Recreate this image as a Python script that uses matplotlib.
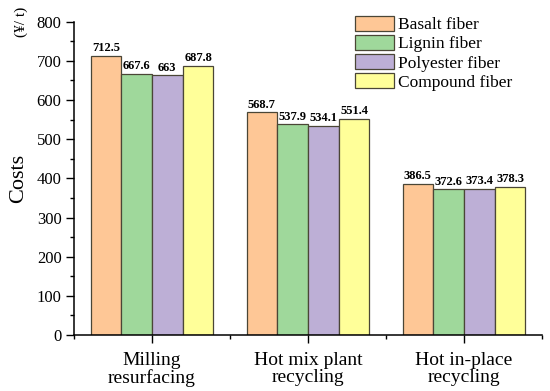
import matplotlib
matplotlib.use("Agg")
import matplotlib.pyplot as plt
import numpy as np
from matplotlib.ticker import MultipleLocator, FixedLocator

categories = ["Milling\nresurfacing", "Hot mix plant\nrecycling", "Hot in-place\nrecycling"]
series_names = ["Basalt fiber", "Lignin fiber", "Polyester fiber", "Compound fiber"]
basalt = [712.5, 568.7, 386.5]
lignin = [667.6, 537.9, 372.6]
polyester = [663, 534.1, 373.4]
compound = [687.8, 551.4, 378.3]
labels_text = [["712.5", "568.7", "386.5"],
               ["667.6", "537.9", "372.6"],
               ["663", "534.1", "373.4"],
               ["687.8", "551.4", "378.3"]]
colors = ["#FEC796", "#9FD89B", "#BDAFD6", "#FFFF99"]

plt.rcParams['font.family'] = ['Liberation Serif', 'DejaVu Serif']

fig = plt.figure(figsize=(5.5, 3.91), dpi=100)
ax = fig.add_axes([74/550, 1-335/391, (542-74)/550, (335-21.7)/391])

x = np.arange(1, len(categories) + 1)
w = 0.197
series = [basalt, lignin, polyester, compound]
for i, (vals, c, name) in enumerate(zip(series, colors, series_names)):
    pos = x + (i - 1.5) * w
    ax.bar(pos, vals, width=w, color=c, edgecolor="#4a4636", linewidth=0.9, label=name)
    for p, v, t in zip(pos, vals, labels_text[i]):
        ax.text(p, v + 4, t, ha="center", va="bottom", fontsize=9, fontweight="bold")

ax.set_xlim(0.5, 3.5)
ax.set_ylim(0, 800)
ax.set_xticks(x)
ax.set_xticklabels(categories, fontsize=14, linespacing=1.05)
ax.xaxis.set_minor_locator(FixedLocator([0.5, 1.5, 2.5, 3.5]))
ax.yaxis.set_major_locator(MultipleLocator(100))
ax.yaxis.set_minor_locator(MultipleLocator(50))
ax.tick_params(axis="y", which="major", labelsize=12, length=6, width=1, direction="out", pad=3)
ax.tick_params(axis="y", which="minor", length=3, width=1, direction="out")
ax.tick_params(axis="x", which="major", length=6, width=1, direction="out", pad=6)
ax.tick_params(axis="x", which="minor", length=3, width=1, direction="out")
for s in ["top", "right"]:
    ax.spines[s].set_visible(False)
for s in ["left", "bottom"]:
    ax.spines[s].set_linewidth(1.1)

ax.set_ylabel("Costs", fontsize=16, labelpad=6)
fig.text(21/550, 1-22/391, "(¥/ t)", rotation=90, ha="center", va="center", fontsize=11)

leg = ax.legend(loc="upper left", bbox_to_anchor=((355-74)/468, 1 + 6/313), frameon=False,
                fontsize=12.5, handlelength=2.25, handleheight=0.95, handletextpad=0.25,
                labelspacing=0.1, borderaxespad=0, borderpad=0)

fig.savefig("out.png", dpi=100)
